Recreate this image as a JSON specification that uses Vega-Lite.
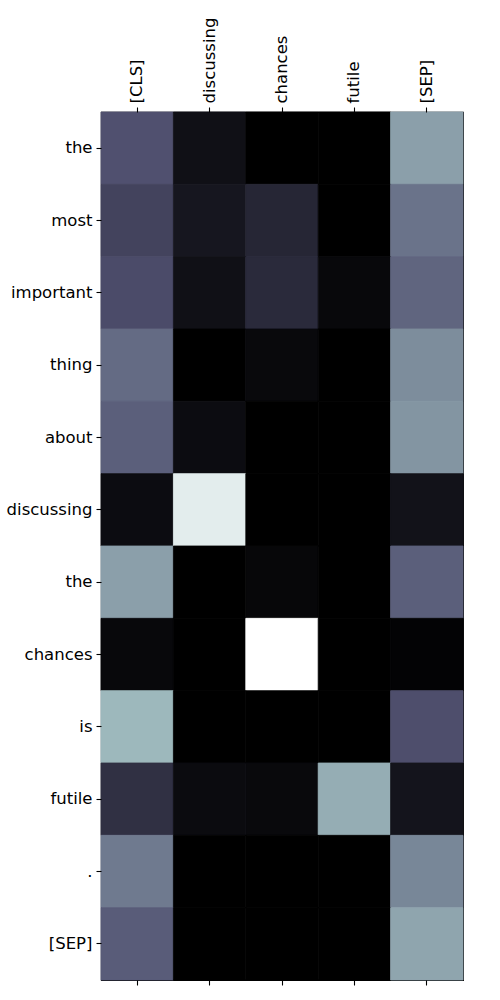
{
  "$schema": "https://vega.github.io/schema/vega-lite/v6.json",
  "autosize": {"type": "none"},
  "padding": {"left": 101, "top": 112, "right": 37, "bottom": 20},
  "width": 362,
  "height": 868,
  "background": "white",
  "config": {
    "font": "DejaVu Sans",
    "view": {"stroke": "#000000", "strokeWidth": 1.1, "strokeOpacity": 1},
    "axis": {
      "domain": false,
      "grid": false,
      "tickColor": "black",
      "tickSize": 5,
      "tickWidth": 1.1,
      "labelColor": "black",
      "labelFont": "DejaVu Sans",
      "labelFontSize": 16.5,
      "labelPadding": 4,
      "title": null
    }
  },
  "data": {
    "values": [
      {"row": 0, "col": "[CLS]", "v": 0.36}, {"row": 0, "col": "discussing", "v": 0.07}, {"row": 0, "col": "chances", "v": 0.0}, {"row": 0, "col": "futile", "v": 0.0}, {"row": 0, "col": "[SEP]", "v": 0.62},
      {"row": 1, "col": "[CLS]", "v": 0.30}, {"row": 1, "col": "discussing", "v": 0.1}, {"row": 1, "col": "chances", "v": 0.17}, {"row": 1, "col": "futile", "v": 0.0}, {"row": 1, "col": "[SEP]", "v": 0.475},
      {"row": 2, "col": "[CLS]", "v": 0.34}, {"row": 2, "col": "discussing", "v": 0.07}, {"row": 2, "col": "chances", "v": 0.19}, {"row": 2, "col": "futile", "v": 0.035}, {"row": 2, "col": "[SEP]", "v": 0.43},
      {"row": 3, "col": "[CLS]", "v": 0.45}, {"row": 3, "col": "discussing", "v": 0.0}, {"row": 3, "col": "chances", "v": 0.04}, {"row": 3, "col": "futile", "v": 0.0}, {"row": 3, "col": "[SEP]", "v": 0.56},
      {"row": 4, "col": "[CLS]", "v": 0.41}, {"row": 4, "col": "discussing", "v": 0.055}, {"row": 4, "col": "chances", "v": 0.0}, {"row": 4, "col": "futile", "v": 0.0}, {"row": 4, "col": "[SEP]", "v": 0.585},
      {"row": 5, "col": "[CLS]", "v": 0.055}, {"row": 5, "col": "discussing", "v": 0.92}, {"row": 5, "col": "chances", "v": 0.0}, {"row": 5, "col": "futile", "v": 0.0}, {"row": 5, "col": "[SEP]", "v": 0.08},
      {"row": 6, "col": "[CLS]", "v": 0.62}, {"row": 6, "col": "discussing", "v": 0.0}, {"row": 6, "col": "chances", "v": 0.03}, {"row": 6, "col": "futile", "v": 0.0}, {"row": 6, "col": "[SEP]", "v": 0.41},
      {"row": 7, "col": "[CLS]", "v": 0.035}, {"row": 7, "col": "discussing", "v": 0.0}, {"row": 7, "col": "chances", "v": 1.0}, {"row": 7, "col": "futile", "v": 0.0}, {"row": 7, "col": "[SEP]", "v": 0.015},
      {"row": 8, "col": "[CLS]", "v": 0.70}, {"row": 8, "col": "discussing", "v": 0.0}, {"row": 8, "col": "chances", "v": 0.0}, {"row": 8, "col": "futile", "v": 0.0}, {"row": 8, "col": "[SEP]", "v": 0.35},
      {"row": 9, "col": "[CLS]", "v": 0.215}, {"row": 9, "col": "discussing", "v": 0.05}, {"row": 9, "col": "chances", "v": 0.04}, {"row": 9, "col": "futile", "v": 0.665}, {"row": 9, "col": "[SEP]", "v": 0.09},
      {"row": 10, "col": "[CLS]", "v": 0.50}, {"row": 10, "col": "discussing", "v": 0.0}, {"row": 10, "col": "chances", "v": 0.0}, {"row": 10, "col": "futile", "v": 0.0}, {"row": 10, "col": "[SEP]", "v": 0.54},
      {"row": 11, "col": "[CLS]", "v": 0.40}, {"row": 11, "col": "discussing", "v": 0.0}, {"row": 11, "col": "chances", "v": 0.0}, {"row": 11, "col": "futile", "v": 0.0}, {"row": 11, "col": "[SEP]", "v": 0.64}
    ]
  },
  "layer": [
    {
      "mark": {"type": "rect", "strokeWidth": 0.8},
      "encoding": {
        "x": {
          "field": "col", "type": "nominal",
          "sort": ["[CLS]", "discussing", "chances", "futile", "[SEP]"],
          "scale": {"paddingInner": 0, "paddingOuter": 0},
          "axis": {"orient": "top", "labelAngle": -90, "labelAlign": "left", "labelBaseline": "middle", "labelFontSize": 16.5, "labelFont": "DejaVu Sans"}
        },
        "y": {
          "field": "row", "type": "ordinal",
          "scale": {"paddingInner": 0, "paddingOuter": 0},
          "axis": {"orient": "left", "labelFontSize": 16.5, "labelFont": "DejaVu Sans", "labelExpr": "['the','most','important','thing','about','discussing','the','chances','is','futile','.','[SEP]'][datum.value]"}
        },
        "color": {
          "field": "v", "type": "quantitative",
          "scale": {"domain": [0, 0.365079, 0.746032, 1], "range": ["#000000", "#515171", "#a7c6c6", "#ffffff"], "interpolate": "rgb"},
          "legend": null
        },
        "stroke": {
          "field": "v", "type": "quantitative",
          "scale": {"domain": [0, 0.365079, 0.746032, 1], "range": ["#000000", "#515171", "#a7c6c6", "#ffffff"], "interpolate": "rgb"},
          "legend": null
        }
      }
    },
    {
      "mark": {"type": "rect", "opacity": 0},
      "encoding": {
        "x": {
          "field": "col", "type": "nominal",
          "sort": ["[CLS]", "discussing", "chances", "futile", "[SEP]"],
          "scale": {"paddingInner": 0, "paddingOuter": 0},
          "axis": {"orient": "bottom", "labels": false}
        },
        "y": {"field": "row", "type": "ordinal"}
      }
    }
  ],
  "resolve": {"axis": {"x": "independent"}}
}
